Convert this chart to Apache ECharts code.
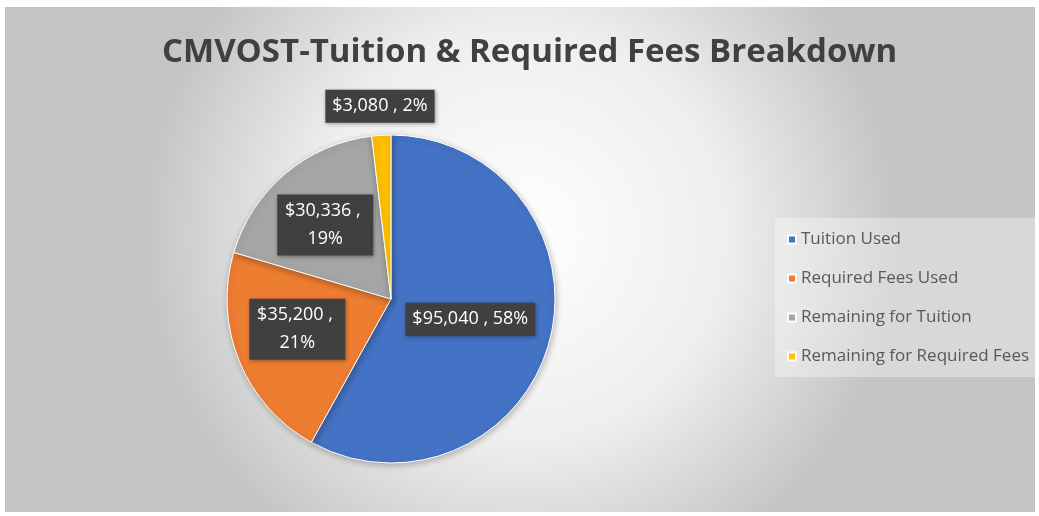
<!DOCTYPE html>
<html>
<head>
<meta charset="UTF-8">
<title>CMVOST-Tuition & Required Fees Breakdown</title>
<script src="https://cdn.jsdelivr.net/npm/echarts@6/dist/echarts.min.js"></script>
<style>
  html, body { margin: 0; padding: 0; background: #fff; }
  #chart { position: absolute; left: 5px; top: 7px; width: 1030px; height: 505px; }
</style>
</head>
<body>
<div id="chart"></div>
<script>
var categories = ['Tuition Used', 'Required Fees Used', 'Remaining for Tuition', 'Remaining for Required Fees'];
var amounts = [95040, 35200, 30336, 3080];
var colors = ['#4472C4', '#ED7D31', '#A5A5A5', '#FFC000'];

// label nudges and wrapping widths, per slice
var labelOffsets = [[-3, -1], [-15, -2], [-11, -9], [-6, -108]];
var labelWidths = [null, 82, 82, null];

var chart = echarts.init(document.getElementById('chart'));

var pieData = categories.map(function (name, i) {
  var item = { name: name, value: amounts[i], itemStyle: { color: colors[i] } };
  item.label = { offset: labelOffsets[i] };
  if (labelWidths[i]) {
    item.label.width = labelWidths[i];
    item.label.overflow = 'break';
  }
  return item;
});

var option = {
  backgroundColor: {
    type: 'radial', x: 0.5, y: 0.45, r: 0.75,
    colorStops: [
      { offset: 0, color: '#ffffff' },
      { offset: 0.55, color: '#eeeeee' },
      { offset: 1, color: '#c4c4c4' }
    ]
  },
  title: {
    text: 'CMVOST-Tuition & Required Fees Breakdown',
    left: 157,
    top: 29,
    padding: 0,
    textStyle: { fontFamily: 'Open Sans', fontSize: 33, fontWeight: 'bold', color: '#404040' }
  },
  legend: {
    orient: 'vertical',
    left: 770,
    top: 211,
    itemWidth: 8,
    itemHeight: 8,
    itemGap: 22,
    icon: 'rect',
    padding: [13, 8, 12, 12],
    backgroundColor: 'rgba(255,255,255,0.35)',
    textStyle: { fontFamily: 'Open Sans', fontSize: 17, color: '#595959' },
    data: categories
  },
  series: [{
    type: 'pie',
    center: [386, 292],
    radius: 164,
    startAngle: 90,
    clockwise: true,
    percentPrecision: 0,
    itemStyle: {
      borderColor: '#ffffff', borderWidth: 1,
      shadowBlur: 6, shadowColor: 'rgba(0,0,0,0.25)', shadowOffsetX: 1, shadowOffsetY: 2
    },
    label: {
      position: 'inside',
      color: '#ffffff',
      fontFamily: 'Open Sans',
      fontSize: 18,
      lineHeight: 28,
      align: 'center',
      backgroundColor: '#404040',
      padding: [3, 7, 2, 7],
      shadowBlur: 4, shadowColor: 'rgba(0,0,0,0.35)', shadowOffsetX: 1, shadowOffsetY: 1,
      formatter: function (p) {
        return '$' + p.value.toLocaleString('en-US') + ' , ' + p.percent + '%';
      }
    },
    labelLine: { show: false },
    emphasis: { disabled: true },
    data: pieData
  }]
};

chart.setOption(option);
</script>
</body>
</html>
